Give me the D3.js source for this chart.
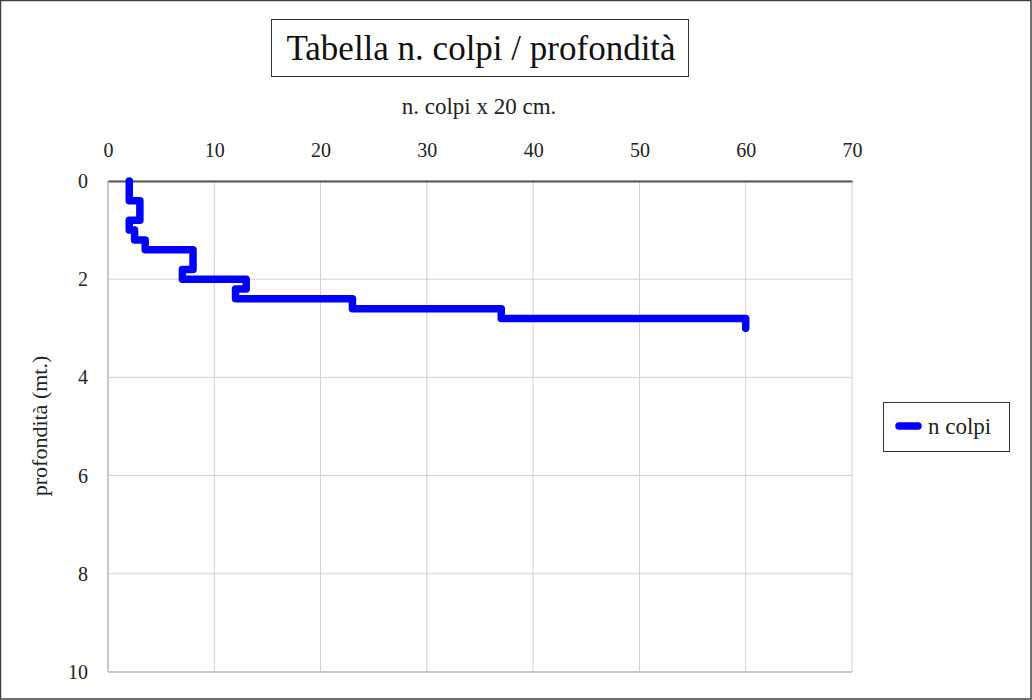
<!DOCTYPE html>
<html><head><meta charset="utf-8">
<script src="https://cdn.jsdelivr.net/npm/d3@7"></script>
<style>body{margin:0;background:#fff}svg{display:block}</style>
</head><body>
<script>
// Data: depth intervals (m) and number of blows per 20 cm
const depthTop = [0,0.2,0.4,0.6,0.8,1.0,1.2,1.4,1.6,1.8,2.0,2.2,2.4,2.6,2.8];
const depthBottom = [0.2,0.4,0.6,0.8,1.0,1.2,1.4,1.6,1.8,2.0,2.2,2.4,2.6,2.8,3.0];
const colpi = [2,2,3,3,2,2.5,3.5,8,8,7,13,12,23,37,60];
const xTicks = [0,10,20,30,40,50,60,70];
const yTicks = [0,2,4,6,8,10];
const title = "Tabella n. colpi / profondità";
const xLabel = "n. colpi x 20 cm.";
const yLabel = "profondità (mt.)";
const seriesName = "n colpi";

const W = 1032, H = 700;
const font = "'Liberation Serif', 'DejaVu Serif', serif";
const svg = d3.select("body").append("svg").attr("width", W).attr("height", H);
svg.append("rect").attr("x",0.5).attr("y",0.5).attr("width",W-1.5).attr("height",H-1.5)
  .attr("fill","#fff").attr("stroke","#404040").attr("stroke-width",1.5);

const m = {l:108, r:852, t:181, b:672};
const x = d3.scaleLinear().domain([0,70]).range([m.l, m.r]);
const y = d3.scaleLinear().domain([0,10]).range([m.t, m.b]);

// gridlines
const g = svg.append("g");
g.selectAll("line.vx").data(xTicks).join("line")
  .attr("x1", d=>x(d)).attr("x2", d=>x(d)).attr("y1", m.t).attr("y2", m.b)
  .attr("stroke","#d0d0d0").attr("stroke-width",1);
g.selectAll("line.hy").data(yTicks).join("line")
  .attr("x1", m.l).attr("x2", m.r).attr("y1", d=>y(d)).attr("y2", d=>y(d))
  .attr("stroke","#d0d0d0").attr("stroke-width",1);
// left & bottom border
svg.append("line").attr("x1",m.l).attr("x2",m.l).attr("y1",m.t).attr("y2",m.b).attr("stroke","#c8c8c8").attr("stroke-width",2);
svg.append("line").attr("x1",m.l).attr("x2",m.r).attr("y1",m.b).attr("y2",m.b).attr("stroke","#c8c8c8").attr("stroke-width",2);

// axes (top x, left y)
const xAxis = d3.axisTop(x).tickValues(xTicks).tickSize(0).tickPadding(24);
const xa = svg.append("g").attr("transform",`translate(0,${m.t})`).call(xAxis);
xa.select(".domain").attr("stroke","#555").attr("stroke-width",2);
xa.selectAll("text").attr("font-family",font).attr("font-size",20).attr("fill","#222");
const yAxis = d3.axisLeft(y).tickValues(yTicks).tickSize(0).tickPadding(20);
const ya = svg.append("g").attr("transform",`translate(${m.l},0)`).call(yAxis);
ya.select(".domain").remove();
ya.selectAll("text").attr("font-family",font).attr("font-size",20).attr("fill","#222");

// step line
const pts = [];
colpi.forEach((v,i)=>{ pts.push([v, depthTop[i]]); pts.push([v, depthBottom[i]]); });
const line = d3.line().x(d=>x(d[0])).y(d=>y(d[1]));
svg.append("path").datum(pts).attr("d", line).attr("fill","none")
  .attr("stroke","#0000ff").attr("stroke-width",7.5)
  .attr("stroke-linejoin","round").attr("stroke-linecap","round");

// title
svg.append("rect").attr("x",271.5).attr("y",19.5).attr("width",417).attr("height",57)
  .attr("fill","#fff").attr("stroke","#333").attr("stroke-width",1);
svg.append("text").attr("x",481).attr("y",60).attr("text-anchor","middle")
  .attr("font-family",font).attr("font-size",35).attr("fill","#111").text(title);
svg.append("text").attr("x",479).attr("y",114).attr("text-anchor","middle")
  .attr("font-family",font).attr("font-size",23).attr("fill","#222").text(xLabel);
svg.append("text").attr("transform","translate(47,426) rotate(-90)").attr("text-anchor","middle")
  .attr("font-family",font).attr("font-size",22).attr("fill","#222").text(yLabel);

// legend
svg.append("rect").attr("x",883.5).attr("y",402.5).attr("width",126).attr("height",49)
  .attr("fill","#fff").attr("stroke","#333").attr("stroke-width",1);
svg.append("line").attr("x1",899).attr("x2",918).attr("y1",426).attr("y2",426)
  .attr("stroke","#0000ff").attr("stroke-width",7.5).attr("stroke-linecap","round");
svg.append("text").attr("x",928).attr("y",434).attr("font-family",font).attr("font-size",23)
  .attr("fill","#222").text(seriesName);
</script>
</body></html>
